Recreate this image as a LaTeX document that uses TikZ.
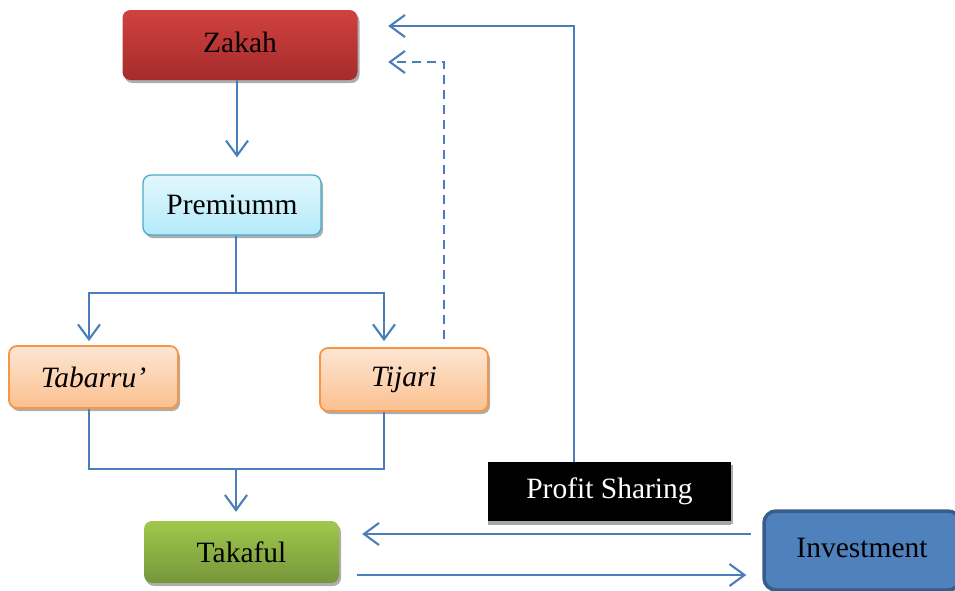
\documentclass[tikz,border=0pt]{standalone}
\usepackage{fontspec}
\setmainfont{Liberation Serif}
\usetikzlibrary{arrows.meta,shadows}
\definecolor{conncol}{HTML}{4A7EBB}
\definecolor{zakTop}{HTML}{D04240}
\definecolor{zakBot}{HTML}{A52B2A}
\definecolor{preTop}{HTML}{E2F7FD}
\definecolor{preBot}{HTML}{B3EBFA}
\definecolor{preLine}{HTML}{4BACC6}
\definecolor{orTop}{HTML}{FDE6D3}
\definecolor{orBot}{HTML}{FBC08F}
\definecolor{orLine}{HTML}{F79646}
\definecolor{grTop}{HTML}{A0C84C}
\definecolor{grBot}{HTML}{76963A}
\definecolor{invFill}{HTML}{4F81BD}
\definecolor{invLine}{HTML}{385D8A}
\tikzset{
  box/.style={rounded corners=8pt, inner sep=0pt, align=center,
    font=\fontsize{29.5}{32}\selectfont,
    drop shadow={shadow xshift=2pt,shadow yshift=-3pt,fill=black!40,opacity=0.8}},
  line/.style={draw=conncol, line width=2.1pt},
  conn/.style={line, -{Straight Barb[length=15pt,width=22pt,line width=2.1pt]}},
}
\begin{document}
\begin{tikzpicture}[x=1pt,y=-1pt]
\useasboundingbox (0,0) rectangle (955,590);
% nodes
\node[box, top color=zakTop, bottom color=zakBot, minimum width=235pt, minimum height=70pt] (zakah) at (240,45) {\raisebox{6pt}{Zakah}};
\node[box, top color=preTop, bottom color=preBot, draw=preLine, line width=1.3pt, minimum width=178pt, minimum height=60pt] (premium) at (232,205) {Premiumm};
\node[box, top color=orTop, bottom color=orBot, draw=orLine, line width=1.8pt, minimum width=169pt, minimum height=62pt] (tabarru) at (93.5,377) {\itshape Tabarru’};
\node[box, top color=orTop, bottom color=orBot, draw=orLine, line width=1.8pt, minimum width=168pt, minimum height=63pt] (tijari) at (404,379.5) {\itshape Tijari};
\node[box, top color=grTop, bottom color=grBot, minimum width=195pt, minimum height=62pt] (takaful) at (241.5,552) {Takaful};
\node[box, rounded corners=0pt, fill=black, text=white, minimum width=243pt, minimum height=59pt,
  drop shadow={shadow xshift=0pt,shadow yshift=-4pt,fill=black!35,opacity=1}] (profit) at (609.5,491.5) {Profit Sharing};
\node[box, fill=invFill, draw=invLine, line width=3.5pt, rounded corners=12pt, minimum width=196pt, minimum height=79pt, drop shadow={opacity=0}] (investment) at (862,550.5) {\raisebox{5pt}{Investment}};
% helper coordinates
\coordinate (zk) at ([xshift=-3pt]zakah.south);
\coordinate (pm) at ([xshift=4pt]premium.south);
\coordinate (tbn) at ([xshift=-4.5pt]tabarru.north);
\coordinate (tbs) at ([xshift=-4.5pt]tabarru.south);
\coordinate (tjn) at ([xshift=-20pt]tijari.north);
\coordinate (tjs) at ([xshift=-20pt]tijari.south);
\coordinate (tjd) at ([xshift=40pt,yshift=8pt]tijari.north);
\coordinate (tk) at ([xshift=-5.5pt]takaful.north);
\coordinate (ps) at ([xshift=-35.5pt]profit.north);
\coordinate (ztop) at ([yshift=19pt]zakah.east);
\coordinate (zlow) at ([yshift=-17pt]zakah.east);
\coordinate (invA) at ([xshift=-11pt,yshift=16.5pt]investment.west);
\coordinate (takB) at ([xshift=18pt,yshift=-23pt]takaful.east);
% connectors
\draw[conn, shorten >=17pt] (zk) -- (zk |- premium.north);
\draw[line] (pm) -- ++(0,57) coordinate (pj);
\draw[conn, shorten >=4pt] (pj) -| (tbn);
\draw[conn, shorten >=6pt] (pj) -| (tjn);
\draw[line] (tbs) -- ++(0,60) coordinate (tl) -| (tjs);
\draw[conn, shorten >=9pt] (tk |- tl) -- (tk);
\draw[conn, shorten >=30.5pt] (ps) |- (ztop);
\draw[conn, dash pattern=on 9pt off 6pt, shorten >=30.5pt] (tjd) |- (zlow);
\draw[conn, shorten >=23pt] (invA) -- (takaful.east |- invA);
\draw[conn, shorten >=16pt] (takB) -- (investment.west |- takB);
\end{tikzpicture}
\end{document}
